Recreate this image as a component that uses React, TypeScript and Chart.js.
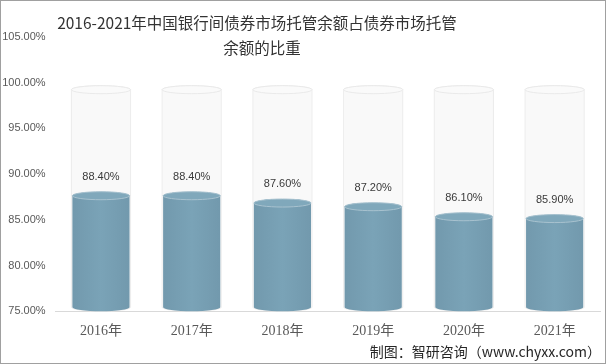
import React, { useEffect, useRef } from "react";
import { Chart, registerables } from "chart.js";

Chart.register(...registerables);

const categories = ["2016年", "2017年", "2018年", "2019年", "2020年", "2021年"];
const shareValues = [88.4, 88.4, 87.6, 87.2, 86.1, 85.9];
const capacityValues = [100, 100, 100, 100, 100, 100];
const titleLines = ["2016-2021年中国银行间债券市场托管余额占债券市场托管", "余额的比重"];
const footerText = "制图：智研咨询（www.chyxx.com）";

const RY = 4;

const cylinderPlugin = {
  id: "cylinders",
  afterDatasetsDraw(chart: any) {
    const ctx = chart.ctx;
    const bgMeta = chart.getDatasetMeta(0);
    const fgMeta = chart.getDatasetMeta(1);
    const base = chart.chartArea.bottom;
    ctx.save();
    bgMeta.data.forEach((el: any) => {
      const w = el.width + 2;
      const x0 = el.x - w / 2;
      const top = el.y + 7;
      const bot = base - RY;
      ctx.beginPath();
      ctx.moveTo(x0, top);
      ctx.lineTo(x0, bot);
      ctx.ellipse(el.x, bot, w / 2, RY, 0, Math.PI, 0, true);
      ctx.lineTo(x0 + w, top);
      ctx.ellipse(el.x, top, w / 2, RY, 0, 0, Math.PI, true);
      ctx.closePath();
      ctx.fillStyle = "rgba(247,247,247,0.7)";
      ctx.fill();
      ctx.strokeStyle = "rgba(232,232,232,0.8)";
      ctx.lineWidth = 1;
      ctx.stroke();
      ctx.beginPath();
      ctx.ellipse(el.x, top, w / 2, RY, 0, 0, Math.PI * 2);
      ctx.fillStyle = "rgba(251,251,251,0.9)";
      ctx.fill();
      ctx.strokeStyle = "rgba(232,232,232,0.9)";
      ctx.stroke();
    });
    fgMeta.data.forEach((el: any, i: number) => {
      const w = el.width;
      const x0 = el.x - w / 2;
      const top = el.y + 7;
      const bot = base - RY;
      const g = ctx.createLinearGradient(x0, 0, x0 + w, 0);
      g.addColorStop(0, "#7299AD");
      g.addColorStop(0.5, "#7AA3B7");
      g.addColorStop(1, "#7299AD");
      ctx.beginPath();
      ctx.moveTo(x0, top);
      ctx.lineTo(x0, bot);
      ctx.ellipse(el.x, bot, w / 2, RY, 0, Math.PI, 0, true);
      ctx.lineTo(x0 + w, top);
      ctx.ellipse(el.x, top, w / 2, RY, 0, 0, Math.PI, true);
      ctx.closePath();
      ctx.fillStyle = g;
      ctx.fill();
      ctx.beginPath();
      ctx.ellipse(el.x, top, w / 2, RY, 0, 0, Math.PI * 2);
      ctx.fillStyle = "#80A8BB";
      ctx.fill();
      ctx.strokeStyle = "#A8C2CF";
      ctx.lineWidth = 1;
      ctx.stroke();
      ctx.font = "11px 'Liberation Sans', 'Noto Sans CJK SC', sans-serif";
      ctx.fillStyle = "#3A3A3A";
      ctx.textAlign = "center";
      ctx.textBaseline = "middle";
      ctx.fillText(shareValues[i].toFixed(2) + "%", el.x, el.y - 12);
    });
    ctx.restore();
  },
  afterDraw(chart: any) {
    const ctx = chart.ctx;
    ctx.save();
    ctx.fillStyle = "#333333";
    ctx.font = "15.5px 'Noto Sans CJK SC', sans-serif";
    ctx.textAlign = "center";
    ctx.textBaseline = "middle";
    ctx.fillText(titleLines[0], 256, 22);
    ctx.fillText(titleLines[1], 261, 47);
    ctx.font = "14px 'Noto Sans CJK SC', sans-serif";
    ctx.fillStyle = "#262626";
    ctx.textAlign = "right";
    ctx.fillText(footerText, 600, 351);
    ctx.restore();
  },
};

export default function App() {
  const ref = useRef<HTMLCanvasElement | null>(null);
  useEffect(() => {
    if (!ref.current) return;
    const chart = new Chart(ref.current, {
      type: "bar",
      data: {
        labels: categories,
        datasets: [
          {
            data: capacityValues,
            backgroundColor: "rgba(0,0,0,0)",
            grouped: false,
            barPercentage: 0.63,
            categoryPercentage: 1,
          } as any,
          {
            data: shareValues,
            backgroundColor: "rgba(0,0,0,0)",
            grouped: false,
            barPercentage: 0.63,
            categoryPercentage: 1,
          } as any,
        ],
      },
      options: {
        responsive: false,
        animation: false,
        devicePixelRatio: 1,
        layout: { padding: { top: 36, right: 5, bottom: 11, left: 0 } },
        plugins: { legend: { display: false }, tooltip: { enabled: false }, title: { display: false } },
        scales: {
          x: {
            offset: true,
            grid: { display: false, drawTicks: false },
            border: { display: true, color: "#D9D9D9" },
            ticks: {
              color: "#595959",
              font: { size: 14, family: "'Liberation Serif', 'Noto Sans CJK SC', serif" },
              padding: 12,
            },
          },
          y: {
            min: 75,
            max: 105,
            afterFit: (s: any) => { s.width = 54.6; },
            grid: { display: false, drawTicks: false },
            border: { display: false },
            ticks: {
              stepSize: 5,
              color: "#595959",
              padding: 10,
              font: { size: 11, family: "'Liberation Sans', sans-serif" },
              callback: (v: any) => Number(v).toFixed(2) + "%",
            },
          },
        },
      },
      plugins: [cylinderPlugin],
    });
    return () => chart.destroy();
  }, []);
  return (
    <div style={{ position: "fixed", left: 0, top: 0, width: 606, height: 364, background: "#fff", boxSizing: "border-box", border: "1px solid #A0A0A0" }}>
      <canvas ref={ref} width={604} height={362} style={{ display: "block" }} />
    </div>
  );
}
